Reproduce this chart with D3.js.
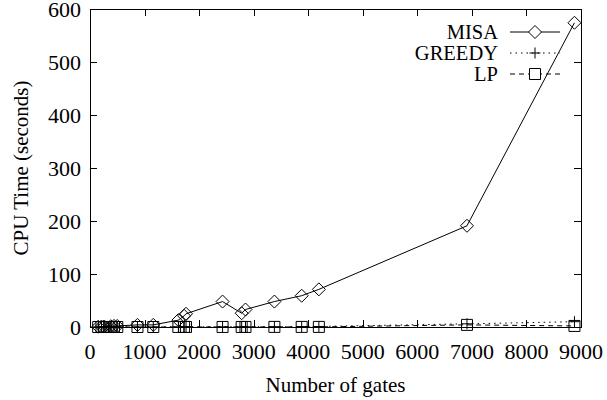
<!DOCTYPE html>
<html>
<head>
<meta charset="utf-8">
<script src="https://cdnjs.cloudflare.com/ajax/libs/d3/7.8.5/d3.min.js"></script>
<style>
  body { margin: 0; background: #fff; }
</style>
</head>
<body>
<div id="chart"></div>
<script>
"use strict";

const width = 607,
      height = 400;

// values
const gates  = [150, 210, 260, 380, 440, 500, 870, 1160, 1620, 1725, 1760, 2430, 2780, 2850, 3380, 3880, 4195, 6910, 8880];
const misa   = [0.5, 0.8, 1, 1.5, 2, 2, 4, 4, 13, 21, 25, 48, 26, 33, 48, 59, 71, 191, 574];
const greedy = [0, 0, 0, 0, 0, 0, 0.1, 0.1, 0.2, 0.2, 0.2, 0.4, 0.4, 0.4, 0.6, 0.8, 1, 6, 10];
const lp     = [0, 0, 0, 0, 0, 0, 0, 0, 0.1, 0.1, 0.1, 0.1, 0.1, 0.1, 0.2, 0.2, 0.2, 4, 2];

const xTicks = [0, 1000, 2000, 3000, 4000, 5000, 6000, 7000, 8000, 9000];
const yTicks = [0, 100, 200, 300, 400, 500, 600];

const seriesNames = ["MISA", "GREEDY", "LP"];

const margin = {left: 90, right: 26, top: 9, bottom: 73};

const x = d3.scaleLinear()
  .domain([0, 9000])
  .range([margin.left, width - margin.right]);

const y = d3.scaleLinear()
  .domain([0, 600])
  .range([height - margin.bottom, margin.top]);

const svg = d3.select("#chart")
  .append("svg")
  .attr("width", width)
  .attr("height", height)
  .attr("font-family", "'Liberation Serif', 'Times New Roman', Times, serif");

const tickFont = 22,
      titleFont = 21,
      legendFont = 20.5;

// ticks, mirrored and pointing inwards, like gnuplot
const tickLen = 7;
const g = svg.append("g").attr("stroke", "#000").attr("stroke-width", 1);

xTicks.forEach(function(t) {
  const px = Math.round(x(t)) + 0.5;
  g.append("line").attr("x1", px).attr("x2", px)
    .attr("y1", y(0)).attr("y2", y(0) - tickLen);
  g.append("line").attr("x1", px).attr("x2", px)
    .attr("y1", y(600)).attr("y2", y(600) + tickLen);
});
yTicks.forEach(function(t) {
  const py = Math.round(y(t)) + 0.5;
  g.append("line").attr("x1", x(0)).attr("x2", x(0) + tickLen)
    .attr("y1", py).attr("y2", py);
  g.append("line").attr("x1", x(9000)).attr("x2", x(9000) - tickLen)
    .attr("y1", py).attr("y2", py);
});

svg.append("rect")
  .attr("x", x(0) + 0.5)
  .attr("y", y(600) + 0.5)
  .attr("width", x(9000) - x(0))
  .attr("height", y(0) - y(600))
  .attr("fill", "none")
  .attr("stroke", "#000");

svg.selectAll(".xlabel")
  .data(xTicks)
  .join("text")
    .attr("class", "xlabel")
    .attr("x", d => x(d))
    .attr("y", y(0) + 32)
    .attr("text-anchor", "middle")
    .attr("font-size", tickFont)
    .text(d => d);

svg.selectAll(".ylabel")
  .data(yTicks)
  .join("text")
    .attr("class", "ylabel")
    .attr("x", x(0) - 9)
    .attr("y", d => y(d) + 8)
    .attr("text-anchor", "end")
    .attr("font-size", tickFont)
    .text(d => d);

svg.append("text")
  .attr("x", (x(0) + x(9000)) / 2)
  .attr("y", 392)
  .attr("text-anchor", "middle")
  .attr("font-size", titleFont)
  .text("Number of gates");

svg.append("text")
  .attr("transform", `translate(28,${(y(0) + y(600)) / 2}) rotate(-90)`)
  .attr("text-anchor", "middle")
  .attr("font-size", titleFont)
  .text("CPU Time (seconds)");

// marker shapes
function diamond(sel) {
  sel.append("path").attr("d", "M0,-6.5L6.5,0L0,6.5L-6.5,0Z");
}
function plus(sel) {
  sel.append("path").attr("d", "M-5.5,0H5.5M0,-5.5V5.5");
}
function square(sel) {
  sel.append("path").attr("d", "M-5.5,-5.5H5.5V5.5H-5.5Z");
}

const series = [
  {name: seriesNames[0], values: misa,   dash: null,  marker: diamond},
  {name: seriesNames[1], values: greedy, dash: "1.5,4", marker: plus},
  {name: seriesNames[2], values: lp,     dash: "5,4", marker: square}
];

const line = d3.line()
  .x(d => x(d[0]))
  .y(d => y(d[1]));

series.forEach(function(s) {
  const pts = gates.map((gt, i) => [gt, s.values[i]]);
  svg.append("path")
    .datum(pts)
    .attr("d", line)
    .attr("fill", "none")
    .attr("stroke", "#000")
    .attr("stroke-width", 1)
    .attr("stroke-dasharray", s.dash);
  svg.append("g")
    .selectAll("g")
    .data(pts)
    .join("g")
      .attr("transform", d => `translate(${x(d[0])},${y(d[1])})`)
      .attr("fill", "none")
      .attr("stroke", "#000")
      .attr("stroke-width", 1)
      .call(s.marker);
});

// legend
const legend = svg.append("g");
series.forEach(function(s, i) {
  const ly = 32 + i * 21;
  legend.append("text")
    .attr("x", 498)
    .attr("y", ly + 7)
    .attr("text-anchor", "end")
    .attr("font-size", legendFont)
    .text(s.name);
  legend.append("line")
    .attr("x1", 510).attr("x2", 560)
    .attr("y1", ly).attr("y2", ly)
    .attr("stroke", "#000")
    .attr("stroke-dasharray", s.dash);
  legend.append("g")
    .attr("transform", `translate(535,${ly})`)
    .attr("fill", "#fff")
    .attr("stroke", "#000")
    .call(s.marker);
});
</script>
</body>
</html>
